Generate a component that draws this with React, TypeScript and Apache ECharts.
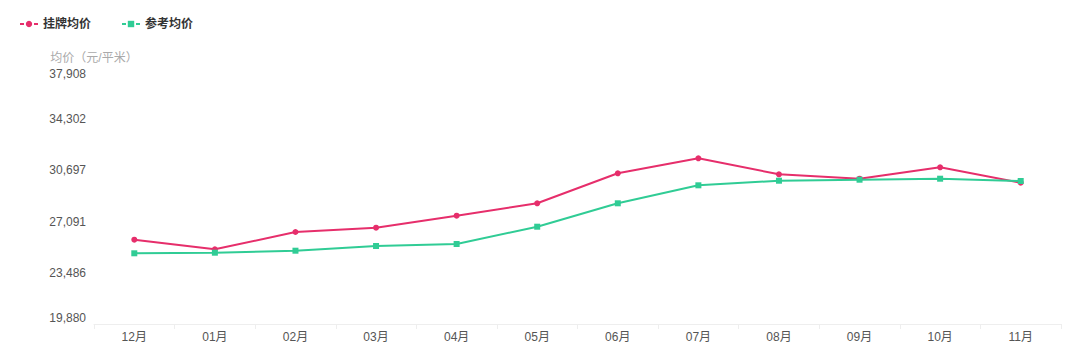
import React, { useEffect, useRef } from "react";
import * as echarts from "echarts";

const categories = ["12月", "01月", "02月", "03月", "04月", "05月", "06月", "07月", "08月", "09月", "10月", "11月"];
const listingPrice = [25816, 25140, 26359, 26661, 27507, 28380, 30492, 31549, 30422, 30112, 30915, 29830];
const referencePrice = [24859, 24901, 25042, 25373, 25514, 26732, 28380, 29647, 29971, 30042, 30112, 29950];
const seriesNames = ["挂牌均价", "参考均价"];
const yMin = 19880;
const yMax = 37908;
const yAxisName = "均价（元/平米）";

const RED = "#e62e6b";
const GREEN = "#30cc95";
const FONT = "'Liberation Sans', 'Noto Sans CJK SC', sans-serif";

export default function App() {
  const ref = useRef<HTMLDivElement>(null);
  useEffect(() => {
    if (!ref.current) return;
    const chart = echarts.init(ref.current, undefined, { renderer: "svg" });
    chart.setOption({
      animation: false,
      textStyle: { fontFamily: FONT },
      legend: {
        left: 14,
        top: 13,
        itemWidth: 18,
        itemHeight: 8,
        itemGap: 30,
        lineStyle: { type: [4, 10] },
        textStyle: { fontSize: 12, fontWeight: "bold", color: "#333", fontFamily: FONT },
        data: seriesNames,
      },
      grid: { left: 94, right: 19, top: 68, bottom: 36 },
      xAxis: {
        type: "category",
        data: categories,
        boundaryGap: true,
        axisLine: { lineStyle: { color: "#eeeeee" } },
        axisTick: { show: true, lineStyle: { color: "#eeeeee" } },
        axisLabel: { color: "#555", fontSize: 12, margin: 7, fontFamily: FONT },
      },
      yAxis: {
        type: "value",
        min: yMin,
        max: yMax,
        interval: (yMax - yMin) / 5,
        name: yAxisName,
        nameLocation: "end",
        nameGap: 4,
        nameTextStyle: { color: "#aaa", fontSize: 12, align: "center", fontFamily: FONT },
        axisLine: { show: false },
        axisTick: { show: false },
        splitLine: { show: false },
        axisLabel: {
          color: "#555",
          fontSize: 12,
          margin: 8,
          fontFamily: FONT,
          verticalAlignMinLabel: "bottom",
          verticalAlignMaxLabel: "top",
          formatter: (v: number) => Math.round(v).toLocaleString("en-US"),
        },
      },
      series: [
        {
          name: seriesNames[0],
          type: "line",
          data: listingPrice,
          symbol: "circle",
          symbolSize: 6,
          lineStyle: { width: 2, color: RED },
          itemStyle: { color: RED },
        },
        {
          name: seriesNames[1],
          type: "line",
          data: referencePrice,
          symbol: "rect",
          symbolSize: 6,
          lineStyle: { width: 2, color: GREEN },
          itemStyle: { color: GREEN },
        },
      ],
    });
    return () => chart.dispose();
  }, []);
  return <div ref={ref} style={{ width: 1080, height: 360, position: "absolute", left: 0, top: 0 }} />;
}
